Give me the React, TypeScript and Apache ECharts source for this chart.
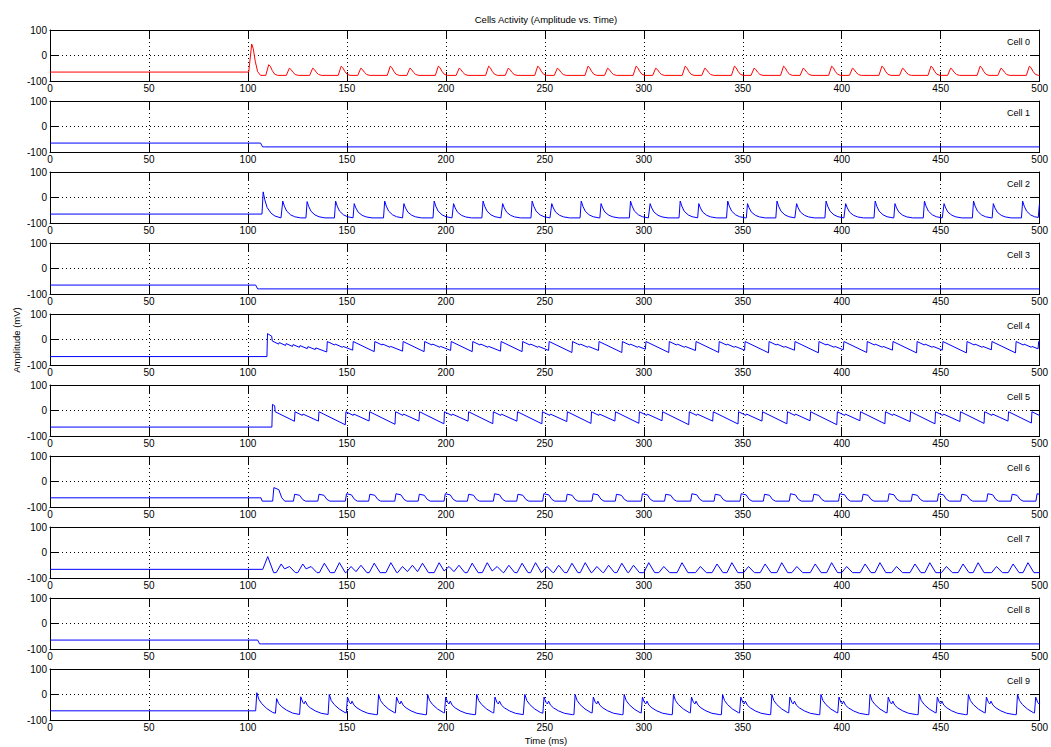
import React, { useEffect, useRef } from "react";
import * as echarts from "echarts";

const CELL_NAMES = ["Cell 0", "Cell 1", "Cell 2", "Cell 3", "Cell 4", "Cell 5", "Cell 6", "Cell 7", "Cell 8", "Cell 9"];
const LINE_COLORS = ["#ff0000", "#0000ff", "#0000ff", "#0000ff", "#0000ff", "#0000ff", "#0000ff", "#0000ff", "#0000ff", "#0000ff"];
const TITLE = "Cells Activity (Amplitude vs. Time)";
const X_NAME = "Time (ms)";
const Y_NAME = "Amplitude (mV)";
const X_MIN = 0, X_MAX = 500, X_STEP = 50;
const Y_MIN = -100, Y_MAX = 100, Y_STEP = 100;

// resting level before activity, and the level each waveform decays towards (mV)
const REST_MV = [-65, -65, -65, -65, -67, -65, -64, -66, -65, -64];
const BASE_MV = [-78, -80, -80, -80, -120, -120, -77, -79, -80, -79];

// waveform templates: rise time, then decay (ms after peak, fraction of height above base)
const RISE_MS = [1.5, 1, 0.6, 1, 0.3, 0.3, 0.6, 2.5, 1, 0.6];
const DECAY_DT = [
  [0, 0.8, 1.8, 3, 4.5], [0, 1], [0, 0.8, 2, 4, 6, 9], [0, 1], [0, 30],
  [0, 30], [0, 2.5, 4, 5.5], [0, 3], [0, 1], [0, 1, 2.5, 5, 8, 12],
];
const DECAY_FRAC = [
  [1, 0.85, 0.45, 0.12, 0], [1, 1], [1, 0.7, 0.4, 0.18, 0.07, 0], [1, 1], [1, 0],
  [1, 0], [1, 0.85, 0.25, 0], [1, 0], [1, 1], [1, 0.7, 0.5, 0.28, 0.1, 0],
];

// event onsets (ms) and peak amplitudes (mV), per cell
const CELL0_T = [100.4, 109.0, 119.4, 131.2, 145.6, 155.5, 170.4, 180.3, 194.7, 205.2, 220.1, 230.0, 244.9, 254.8, 270.3, 280.2, 294.6, 304.5, 319.4, 329.3, 344.3, 354.2, 369.1, 379.0, 393.4, 403.9, 418.8, 429.2, 443.6, 453.5, 468.4, 478.9, 493.3];
const CELL0_P = [45, -36, -50, -50, -42, -50, -42, -50, -42, -50, -42, -50, -42, -50, -42, -50, -42, -50, -42, -50, -42, -50, -42, -50, -42, -50, -42, -50, -42, -50, -42, -50, -42];

const CELL1_T = [106.4];
const CELL1_P = [-80];

const CELL2_T = [107.1, 117.0, 129.3, 143.7, 153.1, 168.5, 178.2, 193.5, 203.3, 218.2, 228.1, 243.0, 252.9, 267.8, 277.8, 292.7, 302.6, 317.8, 327.2, 341.8, 351.8, 366.7, 376.6, 391.5, 401.4, 416.3, 426.3, 441.2, 451.1, 466.0, 476.0, 490.8, 499.3];
const CELL2_P = [22, -14, -16, -14, -24, -14, -24, -14, -24, -14, -24, -14, -24, -14, -24, -14, -24, -14, -24, -14, -24, -14, -24, -14, -24, -14, -24, -14, -24, -14, -24, -14, -24];

const CELL3_T = [103.9];
const CELL3_P = [-80];

const CELL4_T = [109.6, 112.0, 115.5, 119.0, 122.5, 126.0, 130.0, 134.0,
  139.8, 143.8, 147.8, 152.9, 163.8, 167.8, 171.8, 178.1, 189.0, 193.0, 197.0, 202.4,
  213.3, 217.3, 221.3, 227.6, 238.5, 242.5, 246.5, 251.9, 263.7, 267.7, 271.7, 277.1,
  288.9, 292.9, 296.9, 300.8, 312.6, 316.6, 320.6, 326.1, 337.8, 341.8, 345.8, 350.9,
  363.0, 367.0, 371.0, 376.1, 388.2, 392.2, 396.2, 400.8, 412.6, 416.6, 420.6, 425.6,
  437.8, 441.8, 445.8, 450.8, 463.0, 467.0, 471.0, 475.6, 487.8, 491.8, 495.8, 499.2];
const CELL4_P = [23, -6, -12, -16, -20, -24, -28, -33,
  -8, -18, -27, -8, -8, -18, -27, -8, -8, -18, -27, -8,
  -8, -18, -27, -8, -8, -18, -27, -8, -8, -18, -27, -8,
  -8, -18, -27, -8, -8, -18, -27, -8, -8, -18, -27, -8,
  -8, -18, -27, -8, -8, -18, -27, -8, -8, -18, -27, -8,
  -8, -18, -27, -8, -8, -18, -27, -8, -8, -18, -27, -8];

const CELL5_T = [112.1, 113.5, 123.5, 127.5, 135.6, 149.2, 153.2, 161.2, 174.3, 178.3, 186.4,
  199.0, 203.0, 211.2, 223.7, 227.7, 235.9, 248.5, 252.5, 261.1, 273.3, 277.3, 285.4,
  297.5, 301.5, 309.2, 322.7, 326.7, 334.8, 347.6, 351.6, 359.7, 372.3, 376.3, 384.0,
  397.5, 401.5, 409.2, 421.8, 425.8, 434.5, 447.1, 451.1, 459.7, 471.9, 475.9, 484.0, 495.8];
const CELL5_P = [24, -5, -5, -14, -5, -5, -14, -5, -5, -14, -5,
  -5, -14, -5, -5, -14, -5, -5, -14, -5, -5, -14, -5,
  -5, -14, -5, -5, -14, -5, -5, -14, -5, -5, -14, -5,
  -5, -14, -5, -5, -14, -5, -5, -14, -5, -5, -14, -5, -5];

const CELL6_T = [106.6, 112.5, 123.0, 135.3, 149.2, 161.0, 174.2, 186.0, 199.1, 210.9, 224.0, 235.8, 248.9, 260.7, 273.8, 285.6, 298.7, 310.5, 323.7, 335.5, 348.6, 360.4, 373.5, 385.3, 398.4, 410.2, 423.3, 435.1, 448.3, 460.1, 473.2, 485.5, 498.1];
const CELL6_P = [-77, -24, -50, -50, -48, -50, -48, -50, -48, -50, -48, -50, -48, -50, -48, -50, -48, -50, -48, -50, -48, -50, -48, -50, -48, -50, -48, -50, -48, -50, -48, -50, -48];

const CELL7_T = [107.5, 114.3, 118.5, 125.2, 129.4, 136.1, 143.7, 149.6, 154.6, 161.3, 169.7, 175.6, 180.6, 185.7, 194.1, 199.1, 204.1, 210.8, 218.4, 223.4, 229.3, 236.0, 242.8, 248.6, 254.5, 261.2, 267.9, 273.8, 279.7, 286.4, 292.3, 300.0, 307.6, 316.8, 326.1, 334.5, 342.0, 350.4, 358.8, 367.2, 374.8, 384.1, 392.4, 400.0, 409.3, 416.8, 425.2, 434.5, 442.0, 450.4, 458.8, 466.4, 475.7, 484.1, 491.6];
const CELL7_P = [-16, -45, -55, -45, -55, -42, -40, -55, -50, -42, -40, -55, -50, -42, -40, -55, -50, -42, -40, -55, -50, -42, -40, -55, -50, -42, -40, -55, -50, -42, -50, -40, -55, -40, -55, -45, -40, -55, -45, -40, -55, -45, -40, -55, -45, -40, -55, -45, -40, -55, -45, -40, -55, -45, -40];

const CELL8_T = [104.9];
const CELL8_P = [-80];

const CELL9_T = [103.9, 113.9, 126.1, 128.4, 140.5, 149.7, 152.0, 165.4, 174.5, 176.8, 190.2, 199.3, 201.6, 215.0, 224.2, 226.5, 239.3, 249.0, 251.3, 264.7, 273.9, 276.2, 289.5, 298.7, 301.0, 314.4, 323.5, 325.8, 339.2, 348.4, 350.7, 364.1, 373.2, 375.5, 388.9, 398.0, 400.3, 413.7, 422.9, 425.2, 438.6, 447.7, 450.0, 463.4, 472.5, 474.8, 488.2, 497.4, 499.7];
const CELL9_P = [7, -16, -9, -26, 0, -10, -26, 0, -10, -26, 0, -10, -26, 0, -10, -26, 0, -10, -26, 0, -10, -26, 0, -10, -26, 0, -10, -26, 0, -10, -26, 0, -10, -26, 0, -10, -26, 0, -10, -26, 0, -10, -26, 0, -10, -26, 0, -10, -26];

const EVENT_TIMES = [CELL0_T, CELL1_T, CELL2_T, CELL3_T, CELL4_T, CELL5_T, CELL6_T, CELL7_T, CELL8_T, CELL9_T];
const EVENT_PEAKS = [CELL0_P, CELL1_P, CELL2_P, CELL3_P, CELL4_P, CELL5_P, CELL6_P, CELL7_P, CELL8_P, CELL9_P];

function buildTrace(c: number): number[][] {
  const times = EVENT_TIMES[c];
  const peaks = EVENT_PEAKS[c];
  const rise = RISE_MS[c];
  const dts = DECAY_DT[c];
  const frs = DECAY_FRAC[c];
  const base = BASE_MV[c];
  const n = times.length;
  const levels: number[] = [];
  const valueAt = (k: number, t: number) => {
    const t0 = times[k], tp = t0 + rise, L = levels[k], P = peaks[k];
    if (t <= tp) return L + (P - L) * (t - t0) / rise;
    const d = t - tp;
    const last = dts.length - 1;
    if (d >= dts[last]) return base + (P - base) * frs[last];
    for (let j = 0; j < last; j++) {
      if (d < dts[j + 1]) {
        const f = frs[j] + (frs[j + 1] - frs[j]) * (d - dts[j]) / (dts[j + 1] - dts[j]);
        return base + (P - base) * f;
      }
    }
    return base;
  };
  const pts: number[][] = [[X_MIN, REST_MV[c]]];
  for (let k = 0; k < n; k++) {
    levels[k] = k === 0 ? REST_MV[c] : valueAt(k - 1, times[k]);
    pts.push([times[k], levels[k]]);
    const end = k < n - 1 ? times[k + 1] : X_MAX;
    const tp = times[k] + rise;
    if (tp < end) pts.push([tp, peaks[k]]);
    for (let j = 1; j < dts.length; j++) {
      const t = tp + dts[j];
      if (t < end) pts.push([t, valueAt(k, t)]);
    }
  }
  pts.push([X_MAX, valueAt(n - 1, X_MAX)]);
  return pts.map((p) => [Math.round(p[0] * 100) / 100, Math.round(p[1] * 100) / 100]);
}

const FONT = "'Liberation Sans', Arial, Helvetica, sans-serif";
const GRID_LEFT = 50;
const GRID_WIDTH = 991;
const GRID_TOP0 = 30;
const GRID_STEP = 71;
const GRID_HEIGHT = 51;

export default function App() {
  const ref = useRef<HTMLDivElement>(null);
  useEffect(() => {
    if (!ref.current) return;
    const chart = echarts.init(ref.current, undefined, { renderer: "svg" });
    const grids: any[] = [];
    const xAxes: any[] = [];
    const yAxes: any[] = [];
    const series: any[] = [];
    const graphics: any[] = [];
    const dotted = { type: [1, 3], color: "#000", width: 1 };
    const lineCol = { color: "#000", width: 1 };
    CELL_NAMES.forEach((name, i) => {
      const top = GRID_TOP0 + GRID_STEP * i;
      grids.push({ left: GRID_LEFT, width: GRID_WIDTH, top, height: GRID_HEIGHT, containLabel: false });
      xAxes.push({
        gridIndex: i, type: "value", min: X_MIN, max: X_MAX, interval: X_STEP,
        axisLine: { show: true, onZero: false, lineStyle: lineCol },
        axisTick: { show: true, inside: true, length: 9, lineStyle: lineCol },
        axisLabel: { show: true, fontSize: 10, color: "#000", fontFamily: FONT, margin: 2 },
        splitLine: { show: true, lineStyle: dotted },
      });
      xAxes.push({
        gridIndex: i, type: "value", position: "top", min: X_MIN, max: X_MAX, interval: X_STEP,
        axisLine: { show: true, onZero: false, lineStyle: lineCol },
        axisTick: { show: true, inside: true, length: 9, lineStyle: lineCol },
        axisLabel: { show: false }, splitLine: { show: false },
      });
      yAxes.push({
        gridIndex: i, type: "value", min: Y_MIN, max: Y_MAX, interval: Y_STEP,
        axisLine: { show: true, onZero: false, lineStyle: lineCol },
        axisTick: { show: true, inside: true, length: 9, lineStyle: lineCol },
        axisLabel: { show: true, fontSize: 10, color: "#000", fontFamily: FONT, margin: 3 },
        splitLine: { show: true, lineStyle: dotted },
      });
      yAxes.push({
        gridIndex: i, type: "value", position: "right", min: Y_MIN, max: Y_MAX, interval: Y_STEP,
        axisLine: { show: true, onZero: false, lineStyle: lineCol },
        axisTick: { show: true, inside: true, length: 9, lineStyle: lineCol },
        axisLabel: { show: false }, splitLine: { show: false },
      });
      series.push({
        type: "line", name, xAxisIndex: 2 * i, yAxisIndex: 2 * i,
        data: buildTrace(i), symbol: "none", showSymbol: false, silent: true, clip: true,
        lineStyle: { color: LINE_COLORS[i], width: 1 }, z: 5,
      });
      graphics.push({
        type: "text", x: 1030, y: top + 12, z: 10,
        style: { text: name, fontSize: 9, fontFamily: FONT, fill: "#000", textAlign: "right", textVerticalAlign: "middle" },
      });
    });
    graphics.push({
      type: "text", x: 546, y: 19,
      style: { text: TITLE, fontSize: 9.5, fontFamily: FONT, fill: "#000", textAlign: "center", textVerticalAlign: "middle" },
    });
    graphics.push({
      type: "text", x: 546, y: 740,
      style: { text: X_NAME, fontSize: 9.5, fontFamily: FONT, fill: "#000", textAlign: "center", textVerticalAlign: "middle" },
    });
    graphics.push({
      type: "text", x: 16, y: 340, rotation: Math.PI / 2,
      style: { text: Y_NAME, fontSize: 9.5, fontFamily: FONT, fill: "#000", textAlign: "center", textVerticalAlign: "middle" },
    });
    chart.setOption({
      animation: false,
      backgroundColor: "#ffffff",
      grid: grids,
      xAxis: xAxes,
      yAxis: yAxes,
      series,
      graphic: graphics,
    });
    return () => chart.dispose();
  }, []);
  return <div ref={ref} style={{ position: "fixed", left: 0, top: 0, width: 1051, height: 747 }} />;
}
